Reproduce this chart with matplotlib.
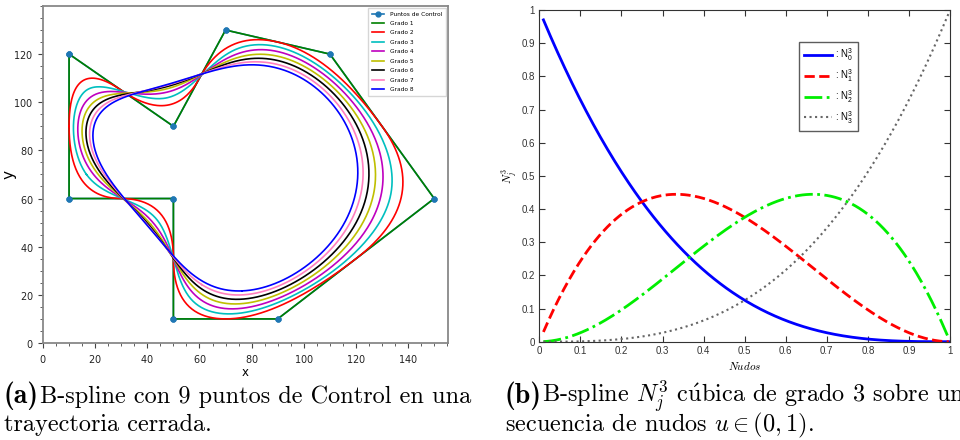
import numpy as np
import matplotlib
matplotlib.use("Agg")
import matplotlib.pyplot as plt
from matplotlib.font_manager import FontProperties

plt.rcParams['mathtext.fontset'] = 'cm'
plt.rcParams['axes.formatter.use_mathtext'] = True

# puntos de control (trayectoria cerrada)
ctrl_x = [10, 10, 50, 50, 90, 150, 110, 70, 50]
ctrl_y = [120, 60, 60, 10, 10, 60, 120, 130, 90]
grados = [1, 2, 3, 4, 5, 6, 7, 8]
colores = ['g', 'r', 'c', 'm', 'y', 'k', '#ff7fbf', 'b']

# vector de nudos para N_j^3 en (0,1)
nudos = [0, 0, 0, 0, 1, 1, 1, 1]
u_ini, u_fin = 0.01, 0.997
base_labels = [r': $\mathregular{N_0^3}$', r': $\mathregular{N_1^3}$',
               r': $\mathregular{N_2^3}$', r': $\mathregular{N_3^3}$']
base_styles = [('b', '-', 2.0), ('r', '--', 2.0), ('#00ee00', '-.', 2.0), ('#666666', ':', 1.5)]


def cox_de_boor(knots, k, t):
    knots = np.asarray(knots, float)
    N = ((t[:, None] >= knots[None, :-1]) & (t[:, None] < knots[None, 1:])).astype(float)
    for d in range(1, k + 1):
        Nn = np.zeros((len(t), len(knots) - d - 1))
        for i in range(len(knots) - d - 1):
            a = knots[i + d] - knots[i]
            b = knots[i + d + 1] - knots[i + 1]
            term = 0
            if a > 0:
                term = term + (t - knots[i]) / a * N[:, i]
            if b > 0:
                term = term + (knots[i + d + 1] - t) / b * N[:, i + 1]
            Nn[:, i] = term
        N = Nn
    return N


def bspline_cerrada(px, py, k, num=600):
    P = np.column_stack([px, py]).astype(float)
    n = len(P)
    Pw = np.vstack([P, P[:k]])
    knots = np.arange(n + 2 * k + 1)
    t = np.linspace(k, n + k, num, endpoint=False)
    N = cox_de_boor(knots, k, t)
    C = N @ Pw
    C = np.vstack([C, C[:1]])
    return C[:, 0], C[:, 1]


fig = plt.figure(figsize=(9.6, 4.4), dpi=100)

# ---------------- (a) ----------------
ax1 = fig.add_axes([0.0448, 0.2205, 0.4219, 0.766])
cx = ctrl_x + ctrl_x[:1]
cy = ctrl_y + ctrl_y[:1]
ax1.plot(cx, cy, 'o-', color='#1f77b4', ms=3.5, lw=1.2, label='Puntos de Control', zorder=1)
for g, c in zip(grados, colores):
    xs, ys = bspline_cerrada(ctrl_x, ctrl_y, g)
    ax1.plot(xs, ys, color=c, lw=1.2, label=f'Grado {g}', zorder=2)
ax1.plot(ctrl_x, ctrl_y, 'o', color='#1f77b4', ms=3.5, zorder=3)
ax1.set_xlim(0, 155.3)
ax1.set_ylim(0, 140)
ax1.set_xticks(np.arange(0, 141, 20))
ax1.set_yticks(np.arange(0, 121, 20))
ax1.minorticks_on()
for s in ax1.spines.values():
    s.set_color('#888888')
    s.set_linewidth(1.3)
ax1.tick_params(which='both', colors='#444444', labelcolor='#222222', labelsize=7)
ax1.tick_params(which='major', length=3.5)
ax1.tick_params(which='minor', length=2)
ax1.set_xlabel('x', fontsize=8.5, labelpad=1)
ax1.set_ylabel('y', fontsize=11)
ax1.yaxis.set_label_coords(-0.066, 0.5)
ax1.legend(loc='upper right', fontsize=4.2, frameon=True, fancybox=False,
           borderpad=0.6, handlelength=2.2, handletextpad=1.0, labelspacing=0.75,
           borderaxespad=0.35)

# ---------------- (b) ----------------
ax2 = fig.add_axes([0.5618, 0.2234, 0.4278, 0.7538])
u = np.linspace(u_ini, u_fin, 400)
B = cox_de_boor(nudos, 3, u)
for j in range(4):
    c, ls, lw = base_styles[j]
    ax2.plot(u, B[:, j], color=c, ls=ls, lw=lw, label=base_labels[j])
ax2.set_xlim(0, 1)
ax2.set_ylim(0, 1)
ticks = np.round(np.arange(0, 1.01, 0.1), 1)
ax2.set_xticks(ticks)
ax2.set_yticks(ticks)
tl = ['0'] + [f'{v:g}' for v in ticks[1:-1]] + ['1']
ax2.set_xticklabels(tl)
ax2.set_yticklabels(tl)
ax2.tick_params(direction='in', top=True, right=True, length=4, labelsize=7,
                colors='#333333', pad=3)
for lab in ax2.get_xticklabels() + ax2.get_yticklabels():
    lab.set_family('Liberation Sans')
for s in ax2.spines.values():
    s.set_color('#333333')
    s.set_linewidth(0.8)
ax2.set_xlabel(r'$Nudos$', fontsize=8, labelpad=3)
ax2.set_ylabel(r'$N_j^3$', fontsize=8, labelpad=1)
prop = FontProperties(family='Liberation Sans', size=7, math_fontfamily='dejavusans')
leg = ax2.legend(loc='upper left', bbox_to_anchor=(0.632, 0.905), prop=prop,
                 frameon=True, fancybox=False, handlelength=2.9, labelspacing=0.42,
                 borderpad=0.5, handletextpad=0.3, borderaxespad=0)
leg.get_frame().set_edgecolor('#333333')
leg.get_frame().set_linewidth(1.0)

# ---------------- pies de figura ----------------
cap_fam = ['cmr10', 'DejaVu Serif']
fs = 17.5
y1, y2 = 1 - 403 / 440, 1 - 431 / 440
fig.text(0.004, y1, '(a)', family='cmb10', fontsize=20, va='baseline')
fig.text(0.042, y1, 'B-spline con 9 puntos de Control en una', family=cap_fam,
         fontsize=fs, va='baseline')
fig.text(0.004, y2, 'trayectoria cerrada.', family=cap_fam, fontsize=fs, va='baseline')
fig.text(0.526, y1, '(b)', family='cmb10', fontsize=20, va='baseline')
fig.text(0.565, y1, r'B-spline $N_j^3$ c$\mathrm{\acute{u}}$bica de grado 3 sobre una',
         family=cap_fam, fontsize=fs, va='baseline')
fig.text(0.526, y2, r'secuencia de nudos $u \in (0,1)$.', family=cap_fam, fontsize=fs,
         va='baseline')

fig.savefig('out.png', dpi=100)
